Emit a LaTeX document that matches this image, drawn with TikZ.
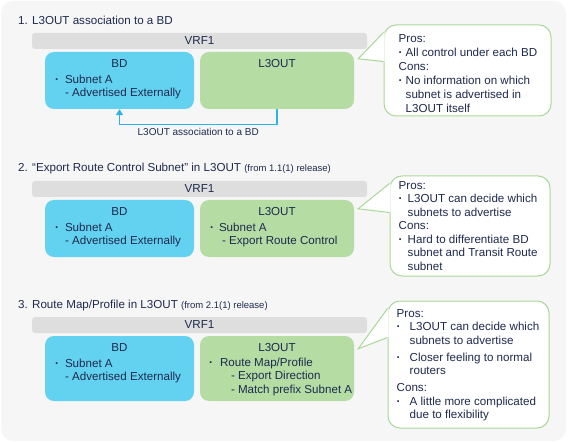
\documentclass[tikz,border=0pt]{standalone}
\usepackage{fontspec}
\setmainfont{Liberation Sans}
\usetikzlibrary{arrows.meta,calc,positioning}

\definecolor{navy}{HTML}{1E2A4E}
\definecolor{panelgray}{HTML}{F6F6F6}
\definecolor{vrfgray}{HTML}{DEDEDE}
\definecolor{bdblue}{HTML}{63D2F0}
\definecolor{outgreen}{HTML}{B4DCA3}
\definecolor{calgreen}{HTML}{AAD898}
\definecolor{arrowblue}{HTML}{2BB5E6}

\newcommand{\bul}[1][10pt]{\makebox[#1][l]{\textbf{\textperiodcentered}}}
\newcommand{\txt}{\fontsize{11.6}{13.5}\selectfont}

\tikzset{
  secttitle/.style={anchor=base west, inner sep=0pt, text=navy, font=\txt},
  vrfbar/.style={fill=vrfgray, rounded corners=3pt, minimum width=335pt,
    minimum height=16pt, inner sep=0pt, text=navy, font=\txt},
  bdbox/.style={fill=bdblue, rounded corners=9pt, minimum width=149pt, inner sep=0pt},
  outbox/.style={fill=outgreen, rounded corners=9pt, minimum width=154pt, inner sep=0pt},
  boxhead/.style={inner sep=0pt, text=navy, font=\txt},
  boxlist/.style={anchor=north west, inner sep=0pt, align=left, text=navy, font=\txt},
  callout/.style={draw=calgreen, line width=1pt, fill=white, rounded corners=12pt, inner sep=0pt},
  callouttext/.style={anchor=north west, inner sep=0pt, align=left, text=navy, font=\txt},
  pointer/.style={draw=calgreen, line width=1pt, line join=miter},
  assoc/.style={draw=arrowblue, line width=1.3pt, -{Triangle[width=7pt,length=6pt]}},
  arrowlabel/.style={inner sep=0pt, text=navy, font=\fontsize{10}{12}\selectfont},
}

\begin{document}
\begin{tikzpicture}[x=1pt,y=-1pt]
\useasboundingbox (0,0) rectangle (569,443);
\fill[panelgray, rounded corners=12pt] (1,1) rectangle (566,441);

% section titles
\node[secttitle] (t1) at (18,25) {1. L3OUT association to a BD};
\node[secttitle] (t2) at (18,172) {2. “Export Route Control Subnet” in L3OUT {\fontsize{9.5}{11}\selectfont (from 1.1(1) release)}};
\node[secttitle] (t3) at (18,308) {3. Route Map/Profile in L3OUT {\fontsize{9.5}{11}\selectfont (from 2.1(1) release)}};

% VRF bars, BD and L3OUT boxes
\foreach \i/\ya/\h in {1/33/57,2/181/57,3/317/65}{
  \node[vrfbar] (vrf\i) at (199.5,\ya+8) {VRF1};
  \node[bdbox, minimum height=\h pt] (bd\i) at (119.5,\ya+19+\h/2) {};
  \node[outbox, minimum height=\h pt] (out\i) at (277,\ya+19+\h/2) {};
  \node[boxhead] (bdh\i) at ($(bd\i.north)+(0,12)$) {BD};
  \node[boxhead] (outh\i) at ($(out\i.north)+(0,12)$) {L3OUT};
  \node[boxlist] (bdl\i) at ($(bd\i.north west)+(10,23)$) {\bul Subnet A\\\hspace*{10pt}- Advertised Externally};
}
\node[boxlist] (outl2) at ($(out2.north west)+(10,23)$) {\bul[9pt]Subnet A\\\hspace*{12pt}- Export Route Control};
\node[boxlist] (outl3) at ($(out3.north west)+(9,22)$) {\bul[11pt]Route Map/Profile\\\hspace*{22pt}- Export Direction\\\hspace*{22pt}- Match prefix Subnet A};

% association arrow
\draw[assoc] (out1.south) -- ++(0,15) coordinate (bend1) -| (bd1.south);
\node[arrowlabel, below=4pt] (asc1) at ($(bend1)!0.5!(bend1 -| bd1.south)$) {L3OUT association to a BD};

% callouts
\node[callout, minimum width=167pt, minimum height=91pt] (pc1) at (467.5,70.5) {};
\node[callout, minimum width=160pt, minimum height=100pt] (pc2) at (470,226) {};
\node[callout, minimum width=161pt, minimum height=127pt] (pc3) at (468.5,364.5) {};

\foreach \i/\dy in {1/7,2/9,3/13}{
  \coordinate (tip\i) at ($(out\i.north east)+(4,\dy)$);
  \fill[white] (tip\i) -- ($(pc\i.north west)+(1.2,8)$) -- ($(pc\i.north west)+(1.2,37)$) -- cycle;
  \draw[pointer] ($(pc\i.north west)+(0,8)$) -- (tip\i) -- ($(pc\i.north west)+(0,37)$);
}

\node[callouttext, font=\fontsize{11.6}{14}\selectfont] (pt1) at ($(pc1.north west)+(15,9.5)$)
  {Pros:\\\bul[7pt]All control under each BD\\Cons:\\\bul[7pt]No information on which\\\hspace*{7pt}subnet is advertised in\\\hspace*{7pt}L3OUT itself};
\node[callouttext] (pt2) at ($(pc2.north west)+(9,5.5)$)
  {Pros:\\\bul[9pt]L3OUT can decide which\\\hspace*{9pt}subnets to advertise\\Cons:\\\bul[9pt]Hard to differentiate BD\\\hspace*{9pt}subnet and Transit Route\\\hspace*{9pt}subnet};
\node[callouttext] (pt3) at ($(pc3.north west)+(9,8.5)$)
  {Pros:\\\bul[13pt]L3OUT can decide which\\\hspace*{13pt}subnets to advertise\\[3.5pt]\bul[13pt]Closer feeling to normal\\\hspace*{13pt}routers\\[3.5pt]Cons:\\\bul[13pt]A little more complicated\\\hspace*{13pt}due to flexibility};
\end{tikzpicture}
\end{document}
